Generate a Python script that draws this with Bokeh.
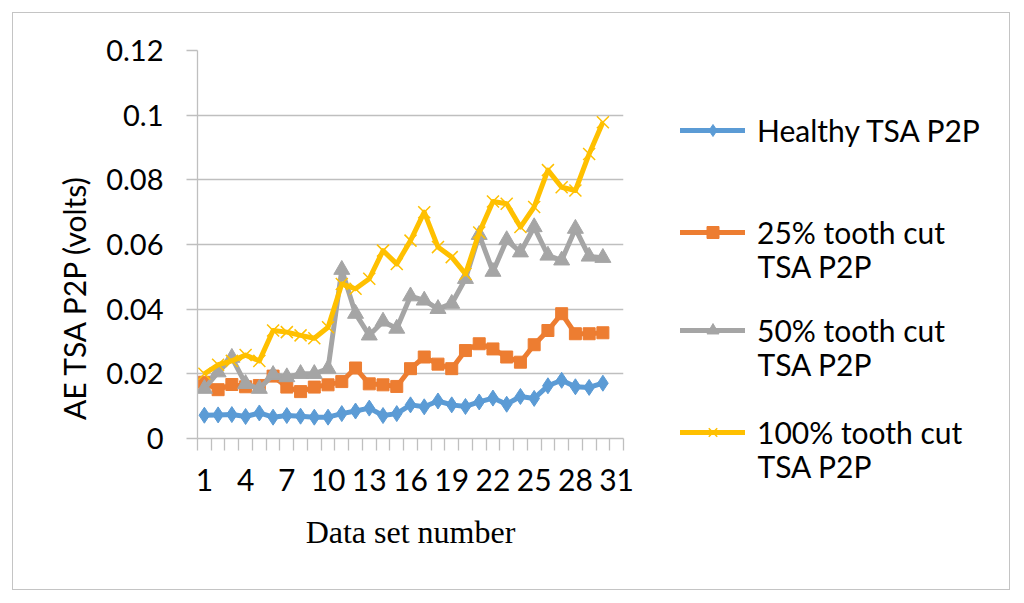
import math
from bokeh.plotting import figure
from bokeh.models import (Range1d, LinearAxis, FixedTicker, Grid, Legend, LegendItem, Label)
from bokeh.layouts import row
from bokeh.embed import file_html
from bokeh.resources import INLINE

# ---- data ----
data_set = list(range(1, 31))
healthy = [0.0072, 0.0073, 0.0074, 0.0068, 0.0079, 0.0066, 0.0071, 0.0069, 0.0066, 0.0066,
           0.0077, 0.0085, 0.0094, 0.0071, 0.0077, 0.0104, 0.0098, 0.0116, 0.0104, 0.0099,
           0.0113, 0.0125, 0.0106, 0.0130, 0.0124, 0.0163, 0.0180, 0.0160, 0.0158, 0.0171]
cut25 = [0.0174, 0.0151, 0.0167, 0.0160, 0.0164, 0.0193, 0.0159, 0.0145, 0.0159, 0.0166,
         0.0176, 0.0218, 0.0169, 0.0166, 0.0161, 0.0216, 0.0252, 0.0230, 0.0216, 0.0272,
         0.0293, 0.0277, 0.0252, 0.0236, 0.0290, 0.0334, 0.0386, 0.0324, 0.0324, 0.0327]
cut50 = [0.0154, 0.0205, 0.0250, 0.0169, 0.0154, 0.0197, 0.0190, 0.0200, 0.0200, 0.0216,
         0.0522, 0.0386, 0.0319, 0.0362, 0.0340, 0.0440, 0.0427, 0.0401, 0.0417, 0.0494,
         0.0630, 0.0516, 0.0614, 0.0576, 0.0654, 0.0566, 0.0551, 0.0649, 0.0563, 0.0559]
cut100 = [0.0200, 0.0228, 0.0240, 0.0258, 0.0240, 0.0334, 0.0329, 0.0319, 0.0310, 0.0344,
          0.0478, 0.0463, 0.0494, 0.0581, 0.0540, 0.0612, 0.0700, 0.0592, 0.0561, 0.0509,
          0.0637, 0.0733, 0.0726, 0.0654, 0.0716, 0.0830, 0.0777, 0.0767, 0.0880, 0.0978]

series_first_line = ["Healthy TSA P2P", "25% tooth cut", "50% tooth cut", "100% tooth cut"]
series_second_line = ["", "TSA P2P", "TSA P2P", "TSA P2P"]
series_colors = ["#5B9BD5", "#ED7D31", "#A5A5A5", "#FFC000"]
series_markers = ["diamond", "square", "triangle", "x"]

x_tick_values = [1, 4, 7, 10, 13, 16, 19, 22, 25, 28, 31]
y_tick_values = [0, 0.02, 0.04, 0.06, 0.08, 0.1, 0.12]
y_tick_labels = ["0", "0.02", "0.04", "0.06", "0.08", "0.1", "0.12"]

x_title = "Data set number"
y_title = "AE TSA P2P  (volts)"

GRID = "#bfbfbf"
FONT = "Lato"
H = 602


def clear(fig):
    fig.outline_line_color = None
    fig.border_fill_alpha = 0
    fig.background_fill_alpha = 0
    fig.frame_align = False


# ---------- y title panel ----------
pt = figure(width=100, height=H, x_range=Range1d(0, 1), y_range=Range1d(0, 1),
            output_backend="svg", toolbar_location=None, x_axis_type=None, y_axis_type=None,
            min_border=0)
clear(pt)
pt.add_layout(Label(x=73, y=309, x_units="screen", y_units="screen", text=y_title,
                    angle=math.pi / 2, text_align="center", text_baseline="middle",
                    text_font=FONT, text_font_size="30px", text_color="black"))

# ---------- main plot ----------
p = figure(width=560, height=H, x_range=Range1d(0.5, 31.5), y_range=Range1d(0, 0.12),
           output_backend="svg", toolbar_location=None, x_axis_type=None, y_axis_type=None,
           min_border_left=97, min_border_right=37, min_border_top=50, min_border_bottom=164)
clear(p)

yaxis = LinearAxis(ticker=FixedTicker(ticks=y_tick_values, minor_ticks=[]))
yaxis.major_label_overrides = {v: l for v, l in zip(y_tick_values, y_tick_labels)}
yaxis.axis_line_color = GRID
yaxis.axis_line_width = 1.3
yaxis.major_tick_line_color = GRID
yaxis.major_tick_line_width = 1.3
yaxis.major_tick_out = 11
yaxis.major_tick_in = 0
yaxis.minor_tick_line_color = None
yaxis.major_label_text_font = FONT
yaxis.major_label_text_font_size = "29px"
yaxis.major_label_text_color = "black"
yaxis.major_label_standoff = 23
p.add_layout(yaxis, "left")

xaxis = LinearAxis(ticker=FixedTicker(ticks=x_tick_values,
                                      minor_ticks=[v + 0.5 for v in range(0, 32)]))
xaxis.axis_line_color = GRID
xaxis.axis_line_width = 1.3
xaxis.major_tick_line_color = None
xaxis.major_tick_out = 0
xaxis.major_tick_in = 0
xaxis.minor_tick_line_color = GRID
xaxis.minor_tick_line_width = 1.3
xaxis.minor_tick_out = 12
xaxis.minor_tick_in = 0
xaxis.major_label_text_font = FONT
xaxis.major_label_text_font_size = "30px"
xaxis.major_label_text_color = "black"
xaxis.major_label_standoff = 18
xaxis.axis_label = x_title
xaxis.axis_label_text_font = "Liberation Serif"
xaxis.axis_label_text_font_size = "32px"
xaxis.axis_label_text_font_style = "normal"
xaxis.axis_label_text_color = "black"
xaxis.axis_label_standoff = 20
p.add_layout(xaxis, "below")

p.add_layout(Grid(dimension=1, ticker=yaxis.ticker, grid_line_color=GRID, grid_line_width=1.3))

all_series = [healthy, cut25, cut50, cut100]
marker_sizes = [16, 12, 16, 17]
for vals, col, mk, ms in zip(all_series, series_colors, series_markers, marker_sizes):
    p.line(data_set, vals, line_color=col, line_width=5, line_join="round")
    if mk == "x":
        p.scatter(data_set, vals, marker=mk, size=ms, line_color=col, line_width=1.5)
    else:
        p.scatter(data_set, vals, marker=mk, size=ms, fill_color=col, line_color=col)

# ---------- legend panel (proxy glyphs lie outside its ranges) ----------
pl = figure(width=362, height=H, x_range=Range1d(-20, -10), y_range=Range1d(-20, -10),
            output_backend="svg", toolbar_location=None, x_axis_type=None, y_axis_type=None,
            min_border=0)
clear(pl)
legend_marker_sizes = [12, 10, 12, 14]
legend_bottoms = [454, 352, 254, 152]
second_line_y = [0, 337, 239, 137]
for vals, name, name2, col, mk, ms, lb, y2 in zip(all_series, series_first_line,
                                                  series_second_line, series_colors,
                                                  series_markers, legend_marker_sizes,
                                                  legend_bottoms, second_line_y):
    ln = pl.line(data_set, vals, line_color=col, line_width=5, line_cap="round")
    if mk == "x":
        sc = pl.scatter(data_set, vals, marker=mk, size=ms, line_color=col, line_width=1.5)
    else:
        sc = pl.scatter(data_set, vals, marker=mk, size=ms, fill_color=col, line_color=col)
    lg = Legend(items=[LegendItem(label=name, renderers=[ln, sc])], location=(20, lb),
                glyph_width=65, glyph_height=30, label_height=30, label_standoff=12,
                padding=0, margin=0, spacing=0, border_line_color=None,
                background_fill_alpha=0, label_text_font=FONT, label_text_font_size="30px",
                label_text_color="black")
    pl.add_layout(lg, "center")
    if name2:
        pl.add_layout(Label(x=97, y=y2, x_units="screen", y_units="screen", text=name2,
                            text_align="left", text_baseline="middle", text_font=FONT,
                            text_font_size="30px", text_color="black"))

root = row(pt, p, pl, styles={"outline": "1px solid #c4c4c4", "outline-offset": "-13px"})

open("out.html", "w").write(file_html(root, INLINE))
